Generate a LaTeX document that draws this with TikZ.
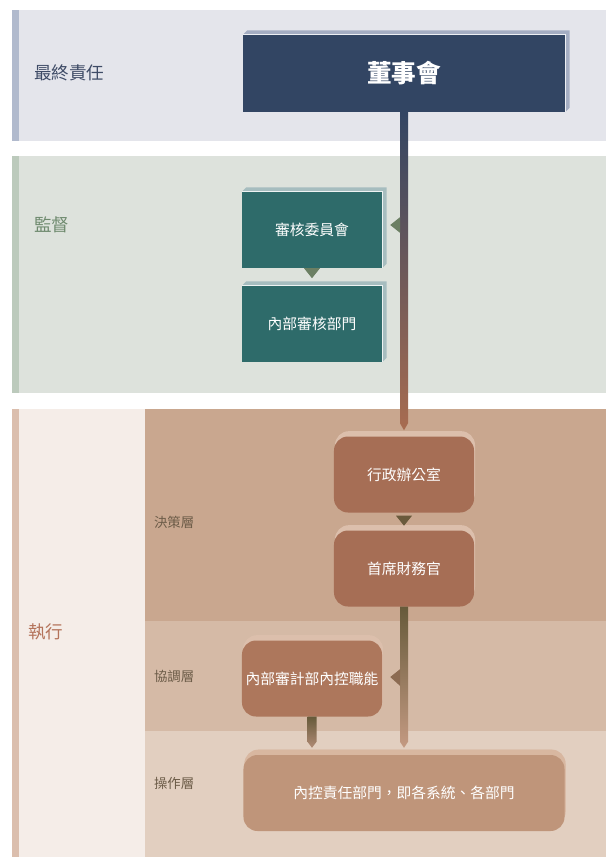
\documentclass[tikz,border=0pt]{standalone}
\usepackage{fontspec}
\setmainfont{Noto Sans CJK TC}
\usetikzlibrary{calc,shadows}

\definecolor{boardblue}{HTML}{324563}
\definecolor{boardedge}{HTML}{A4ADC2}
\definecolor{auditteal}{HTML}{2E6B6A}
\definecolor{auditedge}{HTML}{A6BDBF}
\definecolor{execbrown}{HTML}{A66E55}
\definecolor{execedge}{HTML}{DCBFAC}
\definecolor{funcbrown}{HTML}{AD775C}
\definecolor{respbrown}{HTML}{BF957A}
\definecolor{respedge}{HTML}{D8B7A0}
\definecolor{topband}{HTML}{E4E5EB}
\definecolor{topstripe}{HTML}{B1BACD}
\definecolor{midband}{HTML}{DDE2DC}
\definecolor{midstripe}{HTML}{BCCABC}
\definecolor{lowband}{HTML}{F5EDE8}
\definecolor{lowstripe}{HTML}{DBBEAD}
\definecolor{layerone}{HTML}{C9A78F}
\definecolor{layertwo}{HTML}{D5BAA6}
\definecolor{layerthree}{HTML}{E2CFC0}
\definecolor{spinegreen}{HTML}{6B8063}
\definecolor{spinerust}{HTML}{A86C50}
\definecolor{olivedark}{HTML}{665A3A}
\definecolor{olivelight}{HTML}{C49A82}
\definecolor{tipgreen}{HTML}{6B7F63}
\definecolor{tipbrown}{HTML}{6A5A3C}
\definecolor{tipfunc}{HTML}{8C6B52}
\definecolor{labelblue}{HTML}{3E4B66}
\definecolor{labelgreen}{HTML}{6E8A6E}
\definecolor{labelrust}{HTML}{B4735A}
\definecolor{labeldark}{HTML}{6B5B47}

\tikzset{
  flatbox/.style={minimum width=4.2cm, minimum height=2.28cm, inner sep=0pt,
    text=white, font=\fontsize{12.6}{15}\selectfont},
  boardbox/.style={flatbox, fill=boardblue, minimum width=9.66cm, minimum height=2.31cm,
    font=\fontsize{21}{24}\selectfont\bfseries},
  auditbox/.style={flatbox, fill=auditteal},
  roundbox/.style={flatbox, rounded corners=0.42cm, fill=execbrown,
    copy shadow={shadow xshift=0.03cm, shadow yshift=0.16cm, fill=execedge, draw=none}},
  bandlabel/.style={anchor=west, font=\fontsize{15}{18}\selectfont},
  layerlabel/.style={anchor=west, text=labeldark, font=\fontsize{11.4}{14}\selectfont}
}

\begin{document}
\begin{tikzpicture}[x=0.03cm, y=-0.03cm]
  \useasboundingbox (0,0) rectangle (606,857);

  % bands
  \fill[topband] (12,10) rectangle (606,141);
  \fill[topstripe] (12,10) rectangle (19,141);
  \fill[midband] (12,156) rectangle (606,393);
  \fill[midstripe] (12,156) rectangle (19,393);
  \fill[lowband] (12,409) rectangle (145,857);
  \fill[lowstripe] (12,409) rectangle (19,857);
  \fill[layerone] (145,409) rectangle (606,621);
  \fill[layertwo] (145,621) rectangle (606,731);
  \fill[layerthree] (145,731) rectangle (606,857);

  \node[bandlabel, text=labelblue] (lblfinal) at (30,73) {最終責任};
  \node[bandlabel, text=labelgreen] (lblsuper) at (30,225) {監督};
  \node[bandlabel, text=labelrust] (lblexec) at (24,632) {執行};
  \node[layerlabel] (lbldecide) at (150,522) {決策層};
  \node[layerlabel] (lblcoord) at (150,676) {協調層};
  \node[layerlabel] (lbloper) at (150,783) {操作層};

  % boxes
  \node[boardbox] (board) at (404,73.5) {董事會};
  \node[auditbox] (audit) at (312,230) {審核委員會};
  \node[auditbox] (auditdept) at (312,324) {內部審核部門};
  \node[roundbox] (office) at (404,474.5) {行政辦公室};
  \node[roundbox] (cfo) at (404,568.5) {首席財務官};
  \node[roundbox, fill=funcbrown] (func) at (312,678.5) {內部審計部內控職能};
  \node[roundbox, fill=respbrown, minimum width=9.63cm,
    copy shadow={shadow xshift=0.03cm, shadow yshift=0.16cm, fill=respedge, draw=none}]
    (resp) at (404,793) {內控責任部門，即各系統、各部門};

  % bevels of the flat boxes
  \foreach \nm/\edge in {board/boardedge, audit/auditedge, auditdept/auditedge} {
    \fill[\edge] (\nm.north west) -- ++(4.5,-4.5) -- ($(\nm.north east)+(4.5,-4.5)$)
      -- ($(\nm.south east)+(4.5,-4.5)$) -- (\nm.south east) -- (\nm.north east) -- cycle;
    \draw[white!80!\edge, line width=0.5pt] (\nm.north west) -- (\nm.north east) -- (\nm.south east);
  }

  % connectors
  \shade[top color=boardblue, middle color=spinegreen, bottom color=spinerust]
    ($(board.south)+(-4,0)$) -- ($(office.north)+(-4,-13)$) -- ($(office.north)+(0,-6)$)
    -- ($(office.north)+(4,-13)$) -- ($(board.south)+(4,0)$) -- cycle;
  \fill[tipgreen] ($(audit.east)+(8,-5)$) -- ($(audit.east)+(18,-13)$) -- ($(audit.east)+(18,3)$) -- cycle;
  \fill[tipgreen] ($(audit.south)+(-8,0)$) -- ($(audit.south)+(8,0)$) -- ($(audit.south)+(0,10)$) -- cycle;
  \fill[tipbrown] ($(office.south)+(-8,3)$) -- ($(office.south)+(8,3)$) -- ($(office.south)+(0,13)$) -- cycle;

  \shade[top color=olivedark, bottom color=olivelight]
    ($(cfo.south)+(-4,0)$) -- ($(resp.north)+(-4,-13)$) -- ($(resp.north)+(0,-7)$)
    -- ($(resp.north)+(4,-13)$) -- ($(cfo.south)+(4,0)$) -- cycle;
  \fill[tipfunc] ($(func.east)+(8,-1.5)$) -- ($(func.east)+(18,-9.5)$) -- ($(func.east)+(18,7.5)$) -- cycle;

  \shade[top color=olivedark, bottom color=olivelight!90!black]
    ($(func.south)+(-4.5,0)$) -- ($(func.south |- resp.north)+(-4.5,-13)$) -- ($(func.south |- resp.north)+(0,-7)$)
    -- ($(func.south |- resp.north)+(4.5,-13)$) -- ($(func.south)+(4.5,0)$) -- cycle;
\end{tikzpicture}
\end{document}
